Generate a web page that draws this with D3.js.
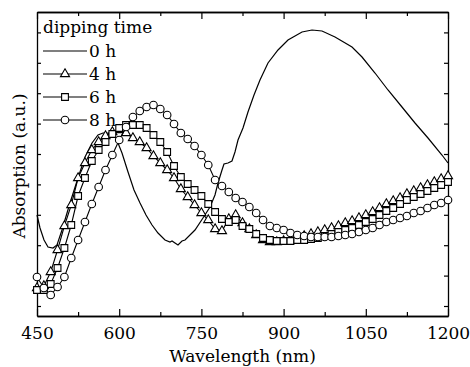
<!DOCTYPE html>
<html><head><meta charset="utf-8">
<script src="https://cdn.jsdelivr.net/npm/d3@7"></script>
<style>body{margin:0;background:#fff} svg{display:block} text{font-family:"DejaVu Serif","Liberation Serif",serif;}</style>
</head><body><svg id="c" width="470" height="367"></svg>
<script>
// 0 h spectrum (continuous line)
const wavelength0 = [450,455.5,462.8,470.1,479.2,486.5,495.6,510.2,524.8,537.6,550.4,561.3,570.4,577.7,586.9,594.2,605.1,616.1,627,638,648.9,659.9,670.8,683.6,692.7,696.4,701.8,707.3,714.6,720.1,738.3,752.9,765.7,774.8,780.3,787.6,791.2,798.5,805.8,811.3,816.8,825.9,835,846,856.9,871.5,889.8,908,933.6,951.8,970.1,993.8,1024.8,1043.1,1066.8,1090.5,1116,1139.8,1163.5,1189,1200];
const abs0h = [1.01,0.88,0.76,0.69,0.68,0.71,0.86,1.13,1.38,1.59,1.73,1.81,1.83,1.83,1.82,1.78,1.63,1.44,1.26,1.13,1.01,0.91,0.83,0.76,0.74,0.75,0.73,0.71,0.75,0.76,0.86,0.98,1.09,1.21,1.33,1.46,1.52,1.53,1.55,1.64,1.76,1.88,2.04,2.21,2.36,2.53,2.66,2.76,2.84,2.86,2.85,2.79,2.69,2.59,2.43,2.26,2.09,1.93,1.78,1.61,1.53];

// marker series share the same wavelengths
const wavelength = [450,462.5,475,487.5,500,512.5,525,537.5,550,562.5,575,587.5,600,612.5,625,637.5,650,662.5,675,687.5,700,712.5,725,737.5,750,762.5,775,787.5,800,812.5,825,837.5,850,862.5,875,887.5,900,912.5,925,937.5,950,962.5,975,987.5,1000,1012.5,1025,1037.5,1050,1062.5,1075,1087.5,1100,1112.5,1125,1137.5,1150,1162.5,1175,1187.5,1200];
const abs4h = [0.28,0.30,0.44,0.66,0.90,1.11,1.38,1.53,1.66,1.74,1.80,1.84,1.86,1.83,1.78,1.74,1.68,1.60,1.53,1.46,1.38,1.27,1.19,1.11,1.03,0.96,0.87,0.85,0.97,1.01,0.93,0.87,0.81,0.76,0.74,0.74,0.75,0.76,0.78,0.80,0.82,0.84,0.86,0.88,0.90,0.93,0.95,0.98,1.01,1.04,1.08,1.12,1.15,1.18,1.22,1.25,1.28,1.31,1.34,1.37,1.40];
const abs6h = [0.26,0.26,0.32,0.48,0.68,0.91,1.20,1.38,1.55,1.66,1.74,1.82,1.88,1.91,1.91,1.91,1.88,1.81,1.74,1.64,1.50,1.39,1.32,1.26,1.20,1.12,1.04,0.97,0.94,0.96,0.90,0.87,0.82,0.78,0.76,0.75,0.75,0.75,0.76,0.76,0.77,0.78,0.80,0.82,0.84,0.86,0.88,0.91,0.94,0.97,1.01,1.05,1.08,1.12,1.16,1.19,1.22,1.25,1.28,1.31,1.34];
const abs8h = [0.39,0.28,0.21,0.29,0.39,0.58,0.76,0.94,1.12,1.29,1.46,1.61,1.76,1.89,1.99,2.05,2.09,2.11,2.07,2.01,1.92,1.83,1.77,1.70,1.61,1.51,1.36,1.30,1.24,1.18,1.14,1.09,1.03,0.96,0.90,0.88,0.86,0.83,0.81,0.80,0.79,0.79,0.79,0.79,0.80,0.81,0.82,0.84,0.86,0.88,0.91,0.94,0.96,0.98,1.00,1.03,1.05,1.08,1.11,1.13,1.16];

const xMajorTicks = [450,600,750,900,1050,1200];
const xMinorTicks = [525,675,825,975,1125];
const yTicks = [0.10,0.404,0.708,1.012,1.316,1.62,1.924,2.228,2.532,2.836];
const seriesNames = ["0 h","4 h","6 h","8 h"];
const legendTitle = "dipping time";
const xTitle = "Wavelength (nm)";
const yTitle = "Absorption (a.u.)";

const svg = d3.select("#c");
const FS = 17;
const L = 37, R = 448, T = 12, B = 316;
const x = d3.scaleLinear().domain([450,1200]).range([L,R]);
const y = d3.scaleLinear().domain([0,3.04]).range([B,T]);

function styleAxis(g){
  g.select(".domain").attr("stroke","#000").attr("stroke-width",1.3);
  g.selectAll(".tick line").attr("stroke","#000").attr("stroke-width",1.2);
}
function styleText(g){
  g.selectAll("text").attr("font-family",null).attr("font-size",FS).attr("fill","#000");
}
// bottom
svg.append("g").attr("transform",`translate(0,${B})`)
  .call(d3.axisBottom(x).tickValues(xMajorTicks).tickSizeInner(-7).tickSizeOuter(0).tickPadding(11).tickFormat(d3.format("d")))
  .call(styleAxis).call(styleText);
svg.append("g").attr("transform",`translate(0,${B})`)
  .call(d3.axisBottom(x).tickValues(xMinorTicks).tickSizeInner(-4).tickSizeOuter(0).tickFormat(""))
  .call(styleAxis);
// top
svg.append("g").attr("transform",`translate(0,${T})`)
  .call(d3.axisTop(x).tickValues(xMajorTicks).tickSizeInner(-7).tickSizeOuter(0).tickFormat(""))
  .call(styleAxis);
svg.append("g").attr("transform",`translate(0,${T})`)
  .call(d3.axisTop(x).tickValues(xMinorTicks).tickSizeInner(-4).tickSizeOuter(0).tickFormat(""))
  .call(styleAxis);
// left / right
svg.append("g").attr("transform",`translate(${L},0)`)
  .call(d3.axisLeft(y).tickValues(yTicks).tickSizeInner(-4).tickSizeOuter(0).tickFormat(""))
  .call(styleAxis);
svg.append("g").attr("transform",`translate(${R},0)`)
  .call(d3.axisRight(y).tickValues(yTicks).tickSizeInner(-4).tickSizeOuter(0).tickFormat(""))
  .call(styleAxis);

// axis titles
svg.append("text").attr("x",(L+R)/2).attr("y",362).attr("text-anchor","middle")
  .attr("font-size",FS).text(xTitle);
svg.append("text").attr("transform",`translate(25,${(T+B)/2+2}) rotate(-90)`).attr("text-anchor","middle")
  .attr("font-size",FS).text(yTitle);

const line = d3.line().x(d=>x(d[0])).y(d=>y(d[1]));
const plot = svg.append("g");

function marker(g, type, cx, cy){
  if(type==="circle"){
    g.append("circle").attr("cx",cx).attr("cy",cy).attr("r",3.8)
      .attr("fill","#fff").attr("stroke","#000").attr("stroke-width",1.1);
  } else {
    const sym = type==="triangle" ? d3.symbol(d3.symbolTriangle).size(36) : d3.symbol(d3.symbolSquare).size(46);
    g.append("path").attr("d",sym()).attr("transform",`translate(${cx},${cy})`)
      .attr("fill","#fff").attr("stroke","#000").attr("stroke-width",1.1);
  }
}

// 0 h
plot.append("path").datum(d3.zip(wavelength0,abs0h)).attr("d",line)
  .attr("fill","none").attr("stroke","#000").attr("stroke-width",1.2);

const markerSeries = [
  {vals:abs4h, type:"triangle"},
  {vals:abs6h, type:"square"},
  {vals:abs8h, type:"circle"}
];
markerSeries.forEach(s=>{
  const pts = d3.zip(wavelength, s.vals);
  const g = plot.append("g");
  g.append("path").datum(pts).attr("d",line).attr("fill","none").attr("stroke","#000").attr("stroke-width",1.1);
  pts.forEach(p=>marker(g, s.type, x(p[0]), y(p[1])));
});

// legend
const lg = svg.append("g");
lg.append("text").attr("x",43).attr("y",33).attr("font-size",FS).text(legendTitle);
const types = [null,"triangle","square","circle"];
seriesNames.forEach((n,i)=>{
  const ly = 51 + i*23;
  lg.append("line").attr("x1",43).attr("x2",87).attr("y1",ly).attr("y2",ly).attr("stroke","#000").attr("stroke-width",1.2);
  if(types[i]) marker(lg, types[i], 65, ly);
  lg.append("text").attr("x",89).attr("y",ly+6).attr("font-size",FS).text(n);
});
</script></body></html>
